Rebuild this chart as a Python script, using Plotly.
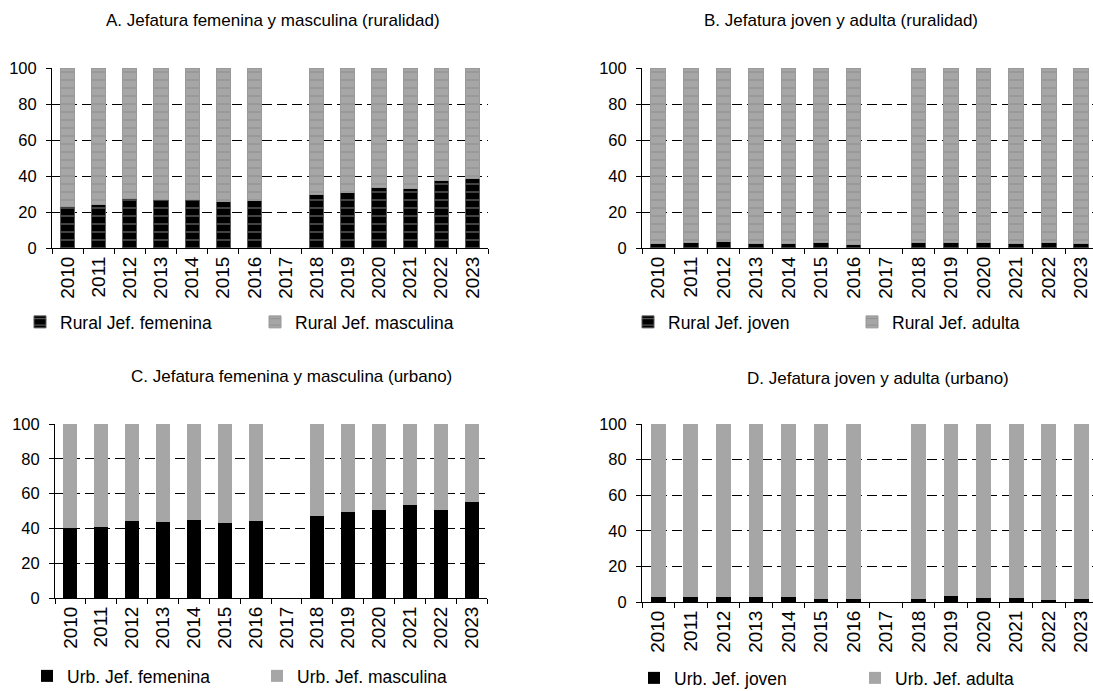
import plotly.graph_objects as go

# Years on the category axis (2017 has no survey data)
years = ["2010", "2011", "2012", "2013", "2014", "2015", "2016",
         "2017", "2018", "2019", "2020", "2021", "2022", "2023"]

# A. Rural households: female / male headship (%)
rural_fem = [22.8, 23.9, 27.6, 27.2, 27.0, 26.1, 26.3, None, 29.6, 30.7, 33.7, 33.0, 37.4, 38.5]
rural_masc = [None if v is None else round(100 - v, 1) for v in rural_fem]

# B. Rural households: young / adult headship (%)
rural_joven = [2.6, 3.0, 3.4, 2.6, 2.4, 3.0, 2.2, None, 3.2, 2.9, 2.9, 2.5, 3.2, 2.7]
rural_adulta = [None if v is None else round(100 - v, 1) for v in rural_joven]

# C. Urban households: female / male headship (%)
urb_fem = [40.2, 40.8, 44.1, 43.7, 45.0, 43.1, 44.1, None, 46.9, 49.2, 50.8, 53.6, 50.8, 55.2]
urb_masc = [None if v is None else round(100 - v, 1) for v in urb_fem]

# D. Urban households: young / adult headship (%)
urb_joven = [2.8, 2.8, 2.8, 2.8, 3.0, 1.7, 1.5, None, 1.7, 3.6, 2.2, 2.4, 1.3, 1.9]
urb_adulta = [None if v is None else round(100 - v, 1) for v in urb_joven]

titles = ["A. Jefatura femenina y masculina (ruralidad)",
          "B. Jefatura joven y adulta (ruralidad)",
          "C. Jefatura femenina y masculina (urbano)",
          "D. Jefatura joven y adulta (urbano)"]

W, H = 1093, 691
FONT = "Liberation Sans, Arial, sans-serif"
BLACK = "#000000"
GREY = "#a6a6a6"
DASH_COL = "#8a8a8a"


def px_x(v):
    return v / W


def px_y(v):
    return 1 - v / H


def dashed(color):
    return dict(shape="-", fgcolor=DASH_COL, bgcolor=color, size=8,
                solidity=0.16, fgopacity=0.75)


fig = go.Figure()

panels = [
    # (dark series, light series, names, axis suffix, legend id, patterned)
    (rural_fem, rural_masc, ("Rural Jef. femenina", "Rural Jef. masculina"), "", "legend", True),
    (rural_joven, rural_adulta, ("Rural Jef. joven", "Rural Jef. adulta"), "2", "legend2", True),
    (urb_fem, urb_masc, ("Urb. Jef. femenina", "Urb. Jef. masculina"), "3", "legend3", False),
    (urb_joven, urb_adulta, ("Urb. Jef. joven", "Urb. Jef. adulta"), "4", "legend4", False),
]

for dark, light, names, ax, leg, patterned in panels:
    for vals, name, col in ((dark, names[0], BLACK), (light, names[1], GREY)):
        marker = dict(color=col)
        if patterned:
            marker["pattern"] = dashed(col)
            marker["line"] = dict(color="#5a5a5a" if col == BLACK else "#9a9a9a", width=1)
        else:
            marker["line"] = dict(width=0)
        fig.add_trace(go.Bar(
            x=years, y=vals, name=name, marker=marker,
            xaxis="x" + ax, yaxis="y" + ax, legend=leg,
            hoverinfo="x+y+name",
        ))

# Plot-area geometry for each panel (pixels)
geo = {
    "": dict(x0=52, x1=488, y0=68, y1=248, right=13.5),
    "2": dict(x0=642, x1=W, y0=68, y1=248, right=13.36),
    "3": dict(x0=55, x1=487, y0=424, y1=598, right=13.5),
    "4": dict(x0=642, x1=W, y0=424, y1=602, right=13.36),
}

layout = dict(
    width=W, height=H,
    margin=dict(l=0, r=0, t=0, b=0, autoexpand=False),
    paper_bgcolor="white", plot_bgcolor="white",
    font=dict(family=FONT, size=16, color=BLACK),
    barmode="stack",
    bargap=0.55,
    showlegend=True,
)

for ax, g in geo.items():
    layout["xaxis" + ax] = dict(
        domain=[px_x(g["x0"]), px_x(g["x1"])],
        anchor="y" + ax,
        type="category",
        categoryorder="array", categoryarray=years,
        range=[-0.5, g["right"]],
        tickson="boundaries",
        ticks="outside", ticklen=5, tickcolor=BLACK, tickwidth=1,
        tickangle=-90,
        tickfont=dict(size=19),
        showline=True, linecolor=BLACK, linewidth=1,
        showgrid=False, zeroline=False,
        fixedrange=True,
    )
    layout["yaxis" + ax] = dict(
        domain=[px_y(g["y1"]), px_y(g["y0"])],
        anchor="x" + ax,
        range=[0, 100], dtick=20, tick0=0,
        ticks="outside", ticklen=5, tickcolor=BLACK, tickwidth=1,
        tickfont=dict(size=16.5),
        ticklabelstandoff=6,
        showline=True, linecolor=BLACK, linewidth=1,
        showgrid=True, gridcolor=BLACK, gridwidth=1.3, griddash="10px,5px",
        zeroline=False,
        fixedrange=True,
    )

# Legends under each panel
legend_spec = {
    "legend": dict(x=20, y=322, w=190),
    "legend2": dict(x=628, y=322, w=179),
    "legend3": dict(x=27, y=676, w=185),
    "legend4": dict(x=634, y=678, w=176),
}
for key, s in legend_spec.items():
    layout[key] = dict(
        orientation="h",
        x=px_x(s["x"]), xanchor="left",
        y=px_y(s["y"]), yanchor="middle",
        entrywidth=s["w"], entrywidthmode="pixels",
        font=dict(family=FONT, size=17.5, color=BLACK),
        bgcolor="rgba(0,0,0,0)", borderwidth=0,
        itemclick=False, itemdoubleclick=False,
        traceorder="normal",
    )

# Panel titles
title_pos = [(273, 20), (841, 20), (291, 377), (878, 378)]
layout["annotations"] = [
    dict(text=t, x=px_x(cx), y=px_y(cy), xref="paper", yref="paper",
         xanchor="center", yanchor="middle", showarrow=False,
         font=dict(family=FONT, size=17, color=BLACK))
    for t, (cx, cy) in zip(titles, title_pos)
]

fig.update_layout(**layout)
fig.write_html("out.html")
